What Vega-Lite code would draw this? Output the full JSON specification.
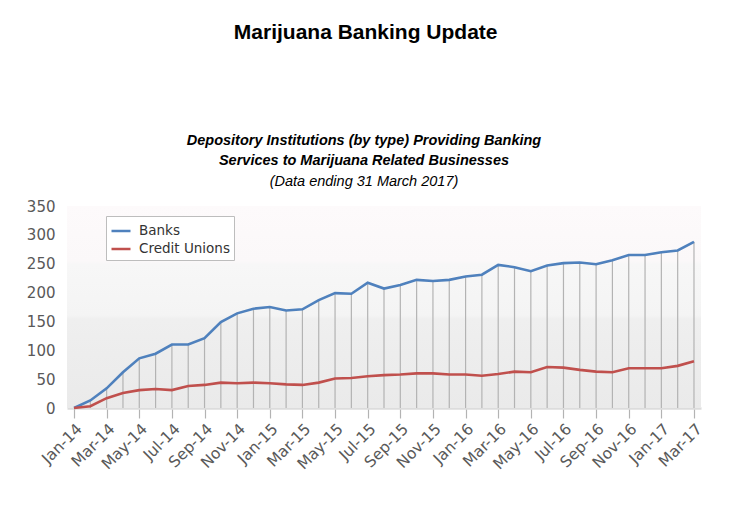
{
  "$schema": "https://vega.github.io/schema/vega-lite/v6.json",
  "background": "white",
  "padding": {"left": 26, "top": 22, "right": 39, "bottom": 0},
  "title": {
    "text": "Marijuana Banking Update",
    "font": "Liberation Sans",
    "fontSize": 21,
    "fontWeight": "bold",
    "color": "#000000",
    "anchor": "middle",
    "offset": 90
  },
  "datasets": {
    "series": [
      {"month": "Jan-14", "type": "Banks", "value": 0},
      {"month": "Feb-14", "type": "Banks", "value": 13},
      {"month": "Mar-14", "type": "Banks", "value": 34},
      {"month": "Apr-14", "type": "Banks", "value": 62},
      {"month": "May-14", "type": "Banks", "value": 86},
      {"month": "Jun-14", "type": "Banks", "value": 94},
      {"month": "Jul-14", "type": "Banks", "value": 110},
      {"month": "Aug-14", "type": "Banks", "value": 110},
      {"month": "Sep-14", "type": "Banks", "value": 121},
      {"month": "Oct-14", "type": "Banks", "value": 149},
      {"month": "Nov-14", "type": "Banks", "value": 164},
      {"month": "Dec-14", "type": "Banks", "value": 172},
      {"month": "Jan-15", "type": "Banks", "value": 175},
      {"month": "Feb-15", "type": "Banks", "value": 169},
      {"month": "Mar-15", "type": "Banks", "value": 171},
      {"month": "Apr-15", "type": "Banks", "value": 187},
      {"month": "May-15", "type": "Banks", "value": 199},
      {"month": "Jun-15", "type": "Banks", "value": 198},
      {"month": "Jul-15", "type": "Banks", "value": 217},
      {"month": "Aug-15", "type": "Banks", "value": 207},
      {"month": "Sep-15", "type": "Banks", "value": 213},
      {"month": "Oct-15", "type": "Banks", "value": 222},
      {"month": "Nov-15", "type": "Banks", "value": 220},
      {"month": "Dec-15", "type": "Banks", "value": 222},
      {"month": "Jan-16", "type": "Banks", "value": 228},
      {"month": "Feb-16", "type": "Banks", "value": 231},
      {"month": "Mar-16", "type": "Banks", "value": 248},
      {"month": "Apr-16", "type": "Banks", "value": 244},
      {"month": "May-16", "type": "Banks", "value": 237},
      {"month": "Jun-16", "type": "Banks", "value": 247},
      {"month": "Jul-16", "type": "Banks", "value": 251},
      {"month": "Aug-16", "type": "Banks", "value": 252},
      {"month": "Sep-16", "type": "Banks", "value": 249},
      {"month": "Oct-16", "type": "Banks", "value": 256},
      {"month": "Nov-16", "type": "Banks", "value": 265},
      {"month": "Dec-16", "type": "Banks", "value": 265},
      {"month": "Jan-17", "type": "Banks", "value": 270},
      {"month": "Feb-17", "type": "Banks", "value": 273},
      {"month": "Mar-17", "type": "Banks", "value": 288},
      {"month": "Jan-14", "type": "Credit Unions", "value": 0},
      {"month": "Feb-14", "type": "Credit Unions", "value": 3},
      {"month": "Mar-14", "type": "Credit Unions", "value": 17},
      {"month": "Apr-14", "type": "Credit Unions", "value": 26},
      {"month": "May-14", "type": "Credit Unions", "value": 31},
      {"month": "Jun-14", "type": "Credit Unions", "value": 33},
      {"month": "Jul-14", "type": "Credit Unions", "value": 31},
      {"month": "Aug-14", "type": "Credit Unions", "value": 38},
      {"month": "Sep-14", "type": "Credit Unions", "value": 40},
      {"month": "Oct-14", "type": "Credit Unions", "value": 44},
      {"month": "Nov-14", "type": "Credit Unions", "value": 43},
      {"month": "Dec-14", "type": "Credit Unions", "value": 44},
      {"month": "Jan-15", "type": "Credit Unions", "value": 43},
      {"month": "Feb-15", "type": "Credit Unions", "value": 41},
      {"month": "Mar-15", "type": "Credit Unions", "value": 40},
      {"month": "Apr-15", "type": "Credit Unions", "value": 44},
      {"month": "May-15", "type": "Credit Unions", "value": 51},
      {"month": "Jun-15", "type": "Credit Unions", "value": 52},
      {"month": "Jul-15", "type": "Credit Unions", "value": 55},
      {"month": "Aug-15", "type": "Credit Unions", "value": 57},
      {"month": "Sep-15", "type": "Credit Unions", "value": 58},
      {"month": "Oct-15", "type": "Credit Unions", "value": 60},
      {"month": "Nov-15", "type": "Credit Unions", "value": 60},
      {"month": "Dec-15", "type": "Credit Unions", "value": 58},
      {"month": "Jan-16", "type": "Credit Unions", "value": 58},
      {"month": "Feb-16", "type": "Credit Unions", "value": 56},
      {"month": "Mar-16", "type": "Credit Unions", "value": 59},
      {"month": "Apr-16", "type": "Credit Unions", "value": 63},
      {"month": "May-16", "type": "Credit Unions", "value": 62},
      {"month": "Jun-16", "type": "Credit Unions", "value": 71},
      {"month": "Jul-16", "type": "Credit Unions", "value": 70},
      {"month": "Aug-16", "type": "Credit Unions", "value": 66},
      {"month": "Sep-16", "type": "Credit Unions", "value": 63},
      {"month": "Oct-16", "type": "Credit Unions", "value": 62},
      {"month": "Nov-16", "type": "Credit Unions", "value": 69},
      {"month": "Dec-16", "type": "Credit Unions", "value": 69},
      {"month": "Jan-17", "type": "Credit Unions", "value": 69},
      {"month": "Feb-17", "type": "Credit Unions", "value": 73},
      {"month": "Mar-17", "type": "Credit Unions", "value": 81}
    ]
  },
  "vconcat": [
    {
      "width": 634,
      "height": 202,
      "title": {
        "text": ["Depository Institutions (by type) Providing Banking", "Services to Marijuana Related Businesses"],
        "font": "Liberation Sans",
        "fontSize": 14.5,
        "fontStyle": "italic",
        "fontWeight": "bold",
        "lineHeight": 20,
        "color": "#000000",
        "subtitle": "(Data ending 31 March 2017)",
        "subtitleFont": "Liberation Sans",
        "subtitleFontSize": 14.5,
        "subtitleFontStyle": "italic",
        "subtitleColor": "#000000",
        "subtitlePadding": 6,
        "anchor": "middle",
        "dx": -20,
        "offset": 10
      },
      "data": {"name": "series"},
      "layer": [
        {
          "data": {"values": [{"bg": 1}]},
          "mark": {
            "type": "rect",
            "fill": {
              "gradient": "linear",
              "x1": 0, "y1": 0, "x2": 0, "y2": 1,
              "stops": [
                {"offset": 0, "color": "#fdfafb"},
                {"offset": 0.27, "color": "#fbf8f9"},
                {"offset": 0.29, "color": "#f7f7f7"},
                {"offset": 0.54, "color": "#f4f4f4"},
                {"offset": 0.56, "color": "#efefef"},
                {"offset": 1, "color": "#eaeaea"}
              ]
            }
          },
          "encoding": {}
        },
        {
          "transform": [{"filter": "datum.type === 'Banks'"}],
          "mark": {"type": "rule", "color": "#b3b3b3", "strokeWidth": 1.2},
          "encoding": {
            "x": {
              "field": "month",
              "type": "ordinal",
              "sort": null,
              "title": null,
              "scale": {"type": "point", "padding": 0.43},
              "axis": {
                "values": ["Jan-14","Mar-14","May-14","Jul-14","Sep-14","Nov-14","Jan-15","Mar-15","May-15","Jul-15","Sep-15","Nov-15","Jan-16","Mar-16","May-16","Jul-16","Sep-16","Nov-16","Jan-17","Mar-17"],
                "labelAngle": -45,
                "labelFont": "DejaVu Sans",
                "labelFontSize": 15.5,
                "labelColor": "#595959",
                "labelPadding": 3,
                "labelOverlap": false,
                "domainColor": "#dcdcdc",
                "domainWidth": 2.5,
                "tickColor": "#b3b3b3",
                "tickSize": 10,
                "tickWidth": 1.2,
                "grid": false
              }
            },
            "y": {
              "field": "value",
              "type": "quantitative",
              "title": null,
              "scale": {"domain": [0, 350]},
              "axis": {
                "values": [0, 50, 100, 150, 200, 250, 300, 350],
                "labelFont": "DejaVu Sans",
                "labelFontSize": 15,
                "labelColor": "#595959",
                "labelPadding": 12,
                "labelOverlap": false,
                "domain": false,
                "ticks": false,
                "grid": false
              }
            },
            "y2": {"datum": 0}
          }
        },
        {
          "mark": {"type": "line", "strokeWidth": 2.6, "interpolate": "linear"},
          "encoding": {
            "x": {
              "field": "month",
              "type": "ordinal",
              "sort": null,
              "title": null,
              "scale": {"type": "point", "padding": 0.43},
              "axis": {
                "values": ["Jan-14","Mar-14","May-14","Jul-14","Sep-14","Nov-14","Jan-15","Mar-15","May-15","Jul-15","Sep-15","Nov-15","Jan-16","Mar-16","May-16","Jul-16","Sep-16","Nov-16","Jan-17","Mar-17"],
                "labelAngle": -45,
                "labelFont": "DejaVu Sans",
                "labelFontSize": 15.5,
                "labelColor": "#595959",
                "labelPadding": 3,
                "labelOverlap": false,
                "domainColor": "#dcdcdc",
                "domainWidth": 2.5,
                "tickColor": "#b3b3b3",
                "tickSize": 10,
                "tickWidth": 1.2,
                "grid": false
              }
            },
            "y": {
              "field": "value",
              "type": "quantitative",
              "title": null,
              "scale": {"domain": [0, 350]},
              "axis": {
                "values": [0, 50, 100, 150, 200, 250, 300, 350],
                "labelFont": "DejaVu Sans",
                "labelFontSize": 15,
                "labelColor": "#595959",
                "labelPadding": 12,
                "labelOverlap": false,
                "domain": false,
                "ticks": false,
                "grid": false
              }
            },
            "color": {
              "field": "type",
              "type": "nominal",
              "scale": {"domain": ["Banks", "Credit Unions"], "range": ["#4f81bd", "#c0504d"]},
              "legend": {
                "title": null,
                "orient": "none",
                "legendX": 39,
                "legendY": 10,
                "direction": "vertical",
                "symbolType": "stroke",
                "symbolStrokeWidth": 2.5,
                "symbolSize": 361,
                "labelFont": "DejaVu Sans",
                "labelFontSize": 13.5,
                "labelColor": "#333333",
                "labelOffset": 7,
                "fillColor": "#ffffff",
                "strokeColor": "#bdbdbd",
                "padding": 4,
                "rowPadding": 0
              }
            }
          }
        }
      ]
    }
  ],
  "config": {
    "view": {"stroke": null},
    "concat": {"spacing": 0}
  }
}
